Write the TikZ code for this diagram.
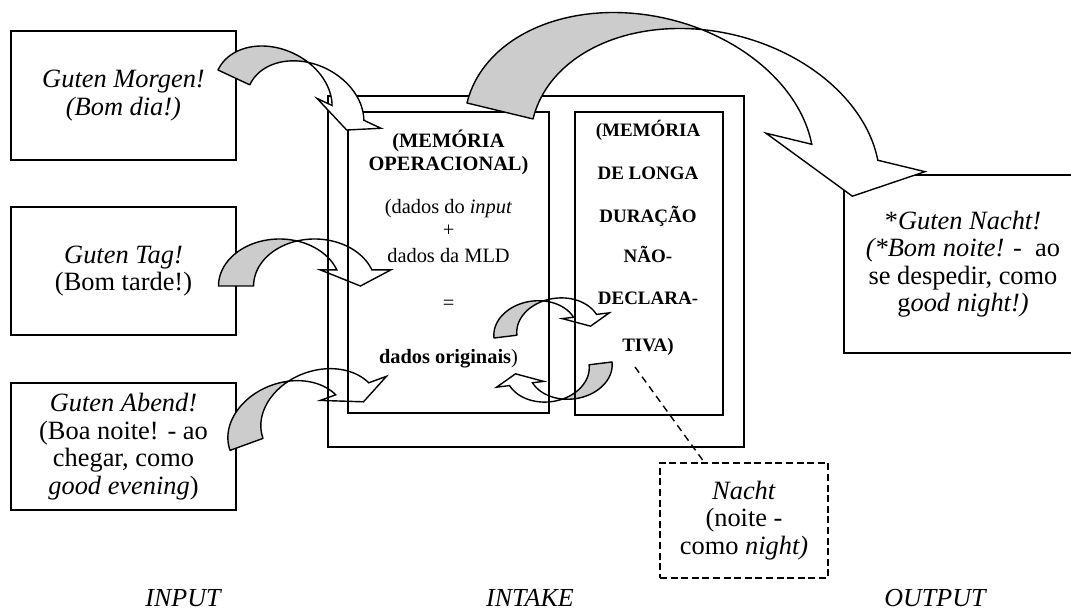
\documentclass[tikz,border=0pt]{standalone}
\usepackage{fontspec}
\setmainfont{Liberation Serif}
\usetikzlibrary{calc}

\tikzset{
  box/.style={draw, line width=0.9pt, inner sep=0pt, align=center},
  inbox/.style={box, font=\fontsize{13.2}{13.75}\selectfont},
  lbl/.style={anchor=base, inner sep=0pt},
  mofont/.style={font=\fontsize{10.2}{12.25}\selectfont},
  mldfont/.style={font=\fontsize{9.5}{11}\selectfont\bfseries},
  arrowback/.style={draw, fill=gray!40, line width=0.7pt, line join=round},
  arrowfront/.style={draw, line width=0.7pt, line join=miter},
  % curved block arrow: #1 band width / radius, #2 angle where the shaft ends,
  % #3 inner barb, #4 outer barb
  pics/carrow/.style n args={4}{code={
    \pgfmathsetmacro\carA{acos(#1/2)}
    \pgfmathsetmacro\carB{180-\carA}
    \pgfmathsetmacro\carT{cos(#2)+#1/2+0.1}
    \begin{scope}[yscale=-1]
      \filldraw[arrowback] (-1,0)
        -- plot[domain=180:\carA, samples=40] ({cos(\x)},{sin(\x)})
        -- plot[domain=\carB:180, samples=40] ({#1+cos(\x)},{sin(\x)}) -- cycle;
      \path[arrowfront, pic actions]
        plot[domain=\carB:#2, samples=50] ({#1+cos(\x)},{sin(\x)})
        -- ++(#4,0) -- (\carT,0) -- ({cos(#2)-#3},{sin(#2)})
        -- ({cos(#2)},{sin(#2)})
        -- plot[domain=#2:\carA, samples=40] ({cos(\x)},{sin(\x)}) -- cycle;
    \end{scope}
  }},
}

\begin{document}
\begin{tikzpicture}[x=0.5pt, y=-0.5pt]
\useasboundingbox (0,0) rectangle (1071,614);

% input boxes
\node[inbox, minimum width=112.5pt, minimum height=64.5pt] (morgen) at (123.5,95.5)
  {\textit{Guten Morgen!}\\\textit{(Bom dia!)}};
\node[inbox, minimum width=112.5pt, minimum height=64pt] (tag) at (123.5,271)
  {\textit{Guten Tag!}\\(Bom tarde!)};
\node[inbox, minimum width=112.5pt, minimum height=63.5pt] (abend) at (123.5,446.5)
  {\textit{Guten Abend!}\\(Boa noite! - ao\\chegar, como\\\textit{good evening})};

% output boxes
\node[inbox, minimum width=119pt, minimum height=89pt] (nachtout) at (963,264)
  {*\textit{Guten Nacht!}\\\textit{(*Bom noite!} -\ \ ao\\se despedir, como\\g\textit{ood night!)}};
\node[inbox, dashed, dash pattern=on 3.5pt off 1.8pt, minimum width=84pt, minimum height=57.5pt]
  (nacht) at (744,520.5)
  {\textit{Nacht}\\(noite -\\como \textit{night)}};

% arrows from the input side and between the memories
\pic[xscale=61, yscale=47] at (279.5,286) {carrow={0.575}{20}{0.27}{0.31}};
\pic[rotate=20, xscale=61, yscale=47] at (287.4,429.5) {carrow={0.575}{20}{0.27}{0.31}};
\pic[rotate=7, xscale=42, yscale=32] at (535.7,332.9) {carrow={0.55}{20}{0.27}{0.31}};
\pic[rotate=187, xscale=42, yscale=32] at (570.3,367.1) {carrow={0.55}{20}{0.27}{0.31}};

% intake: working memory and long-term memory
\node[box, minimum width=208pt, minimum height=175.5pt] (intake) at (536,271.5) {};
\node[box, minimum width=100.5pt, minimum height=150.5pt] (mo) at (448.5,262.5) {};
\node[box, minimum width=74pt, minimum height=151.5pt] (mld) at (649,263.5) {};

% arrows drawn over the boxes
\pic[rotate=-25, xscale=61, yscale=47, fill=white] at (273.3,95.8) {carrow={0.575}{20}{0.27}{0.31}};
\pic[rotate=-13.6, xscale=177, yscale=129, fill=white] at (639,144.6) {carrow={0.384}{18.5}{0.266}{0.274}};

% working memory text
\begin{scope}[mofont]
\node[lbl] (mo1) at (448.5,148) {\textbf{(MEMÓRIA}};
\node[lbl] (mo2) at (448.5,171) {\textbf{OPERACIONAL)}};
\node[lbl] (mo3) at (448.5,214) {(dados do \textit{input}};
\node[lbl] (mo4) at (448.5,237) {+};
\node[lbl] (mo5) at (448.5,263) {dados da MLD};
\node[lbl] (mo6) at (448.5,310) {=};
\node[lbl] (mo7) at (448.5,364) {\textbf{dados originais})};
\end{scope}

% long-term memory text
\begin{scope}[mldfont]
\node[lbl] (mld1) at (648,137) {(MEMÓRIA};
\node[lbl] (mld2) at (648,180) {DE LONGA};
\node[lbl] (mld3) at (648,223) {DURAÇÃO};
\node[lbl] (mld4) at (648,263) {NÃO-};
\node[lbl] (mld5) at (648,305) {DECLARA-};
\node[lbl] (mld6) at (648,352) {TIVA)};
\end{scope}

% link from the long-term memory to the single word
\coordinate (tivatail) at (635,367);
\draw[dashed, dash pattern=on 3.5pt off 2.5pt, line width=0.7pt]
  (tivatail) -- ($(nacht.north west)+(45,0)$);

% stage labels
\begin{scope}[font=\fontsize{13}{14}\selectfont\itshape]
\node[lbl] (input) at (183,606) {INPUT};
\node[lbl] (intakelbl) at (530,606) {INTAKE};
\node[lbl] (output) at (935,606) {OUTPUT};
\end{scope}
\end{tikzpicture}
\end{document}
